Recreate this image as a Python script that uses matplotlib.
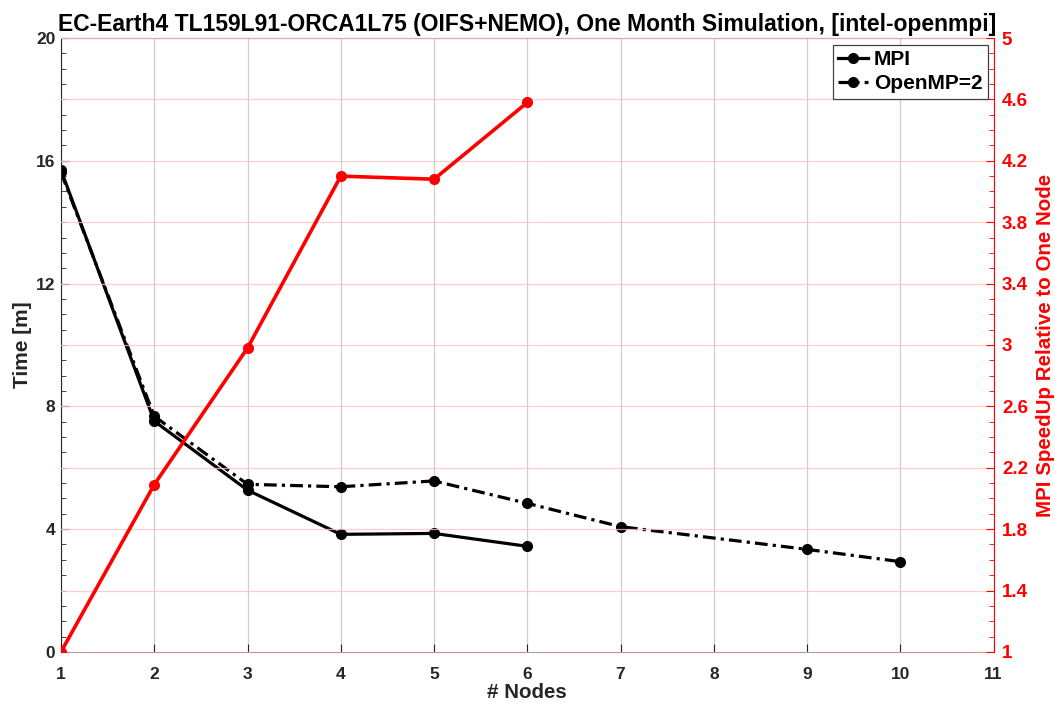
import numpy as np
import matplotlib.pyplot as plt
from matplotlib.ticker import MultipleLocator

plt.rcParams['font.family'] = ['Liberation Sans', 'DejaVu Sans']
plt.rcParams['font.weight'] = 'bold'

# values
nodes_mpi = [1, 2, 3, 4, 5, 6]
time_mpi = [15.7, 7.52, 5.27, 3.83, 3.86, 3.44]

nodes_omp = [1, 2, 3, 4, 5, 6, 7, 9, 10]
time_omp = [15.62, 7.68, 5.46, 5.38, 5.57, 4.84, 4.08, 3.34, 2.94]

speedup_mpi = [1.0, 2.09, 2.98, 4.1, 4.08, 4.58]

title = "EC-Earth4 TL159L91-ORCA1L75 (OIFS+NEMO), One Month Simulation, [intel-openmpi]"
dark = '#262626'
red = '#ff0000'

fig = plt.figure(figsize=(10.55, 7.04), dpi=100)
ax = fig.add_axes([0.0578, 0.074, 0.884, 0.872])
ax2 = ax.twinx()

# black time curves
l1, = ax.plot(nodes_mpi, time_mpi, '-', color='k', lw=2.3, marker='o', ms=7,
              label='MPI')
l2, = ax.plot(nodes_omp, time_omp, color='k', lw=2.3, marker='o', ms=7,
              linestyle=(0, (4, 1.6, 1, 1.6)), label='OpenMP=2')

# red speedup
ax2.plot(nodes_mpi, speedup_mpi, '-', color=red, lw=2.6, marker='o', ms=7)

ax.set_xlim(1, 11)
ax.set_ylim(0, 20)
ax2.set_ylim(1, 5)
ax.set_xticks(range(1, 12))
ax.set_yticks(range(0, 21, 4))
ax.yaxis.set_minor_locator(MultipleLocator(0.5))
ax2.set_yticks(np.arange(1, 5.01, 0.4))
ax2.set_yticklabels(['1', '1.4', '1.8', '2.2', '2.6', '3', '3.4', '3.8',
                     '4.2', '4.6', '5'])
ax2.yaxis.set_minor_locator(MultipleLocator(0.1))

ax.xaxis.grid(True, color='#cfcfcf', lw=0.9)
ax2.yaxis.grid(True, color='#f6c4c4', lw=0.9, alpha=0.8)

ax.tick_params(axis='both', which='both', direction='in', colors=dark,
               labelsize=12.5)
ax.tick_params(axis='y', which='major', length=6, pad=4)
ax.tick_params(axis='y', which='minor', length=3.5)
ax.tick_params(axis='x', which='major', length=6, pad=11)
ax2.tick_params(axis='y', which='both', direction='in', colors=red,
                labelcolor=red, labelsize=13.5, pad=6)
ax2.tick_params(axis='y', which='major', length=6)
ax2.tick_params(axis='y', which='minor', length=3.5)
for lab in ax.get_xticklabels() + ax.get_yticklabels() + ax2.get_yticklabels():
    lab.set_fontweight('bold')

for side in ['left', 'top', 'bottom']:
    ax.spines[side].set_color(dark)
    ax2.spines[side].set_visible(False)
ax.spines['bottom'].set_color('#b89aa0')
ax.spines['top'].set_color('#6e5a5a')
ax.spines['right'].set_visible(False)
ax2.spines['right'].set_color(red)

ax.set_xlabel('# Nodes', fontsize=14.8, fontweight='bold', color=dark)
ax.xaxis.set_label_coords(0.5, -0.05)
ax.set_ylabel('Time [m]', fontsize=15, fontweight='bold', color=dark)
ax.yaxis.set_label_coords(-0.031, 0.5)
ax2.set_ylabel('MPI SpeedUp Relative to One Node', fontsize=14.8,
               fontweight='bold', color=red)
ax2.yaxis.set_label_coords(1.046, 0.5)
ax.set_title(title, fontsize=16.5, fontweight='bold', color='k', pad=5)

leg = ax2.legend(handles=[l1, l2], loc='upper right', fontsize=15,
                 handlelength=1.4, handletextpad=0.3, borderpad=0.25,
                 labelspacing=0.25, borderaxespad=0, fancybox=False,
                 framealpha=1, bbox_to_anchor=(0.9936, 0.9886))
leg.get_frame().set_edgecolor('#404040')
leg.get_frame().set_linewidth(0.9)
for t in leg.get_texts():
    t.set_fontweight('bold')

fig.savefig('out.png', dpi=100)
